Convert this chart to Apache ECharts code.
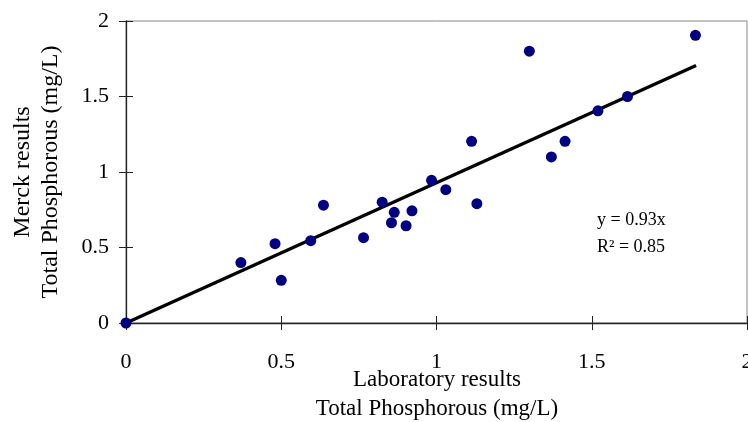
<!DOCTYPE html>
<html>
<head>
<meta charset="utf-8">
<script src="https://cdn.jsdelivr.net/npm/echarts@6/dist/echarts.min.js"></script>
<style>
html,body{margin:0;padding:0;background:#fff;}
#chart{width:748px;height:422px;}
</style>
</head>
<body>
<div id="chart"></div>
<script>
// Data
const labX   = [0, 0.37, 0.48, 0.50, 0.595, 0.636, 0.765, 0.825, 0.855, 0.864, 0.902, 0.921, 0.984, 1.03, 1.113, 1.13, 1.299, 1.37, 1.414, 1.52, 1.615, 1.834];
const merckY = [0, 0.40, 0.525, 0.283, 0.545, 0.78, 0.565, 0.80, 0.664, 0.733, 0.644, 0.743, 0.945, 0.883, 1.203, 0.79, 1.80, 1.10, 1.203, 1.405, 1.50, 1.905];
const trendX = [0, 1.836];
const trendY = [0, 1.706];
const xTicks = [0, 0.5, 1, 1.5, 2];
const yTicks = [0, 0.5, 1, 1.5, 2];
const xTitle = 'Laboratory results\nTotal Phosphorous (mg/L)';
const yTitle = 'Merck results\nTotal Phosphorous (mg/L)';
const eqText = 'y = 0.93x';
const r2Text = 'R\u00B2 = 0.85';

const FONT = '"Liberation Serif", "Times New Roman", serif';
const chart = echarts.init(document.getElementById('chart'), null, {renderer: 'canvas'});

const scatterData = labX.map((x, i) => [x, merckY[i]]);
const trendData = trendX.map((x, i) => [x, trendY[i]]);

const axisBase = (ticks) => ({
  type: 'value',
  min: ticks[0],
  max: ticks[ticks.length - 1],
  interval: ticks[1] - ticks[0],
  splitLine: {show: false}
});

chart.setOption({
  animation: false,
  backgroundColor: '#fff',
  grid: {left: 126, right: 1, top: 21, bottom: 99, containLabel: false, outerBoundsMode: 'none',
    show: true, borderColor: '#888', borderWidth: 1, backgroundColor: 'transparent'},
  xAxis: [
    Object.assign(axisBase(xTicks), {
      position: 'bottom',
      axisLine: {show: true, lineStyle: {color: '#222', width: 1.3}},
      axisTick: {show: true, inside: false, length: 7, lineStyle: {color: '#222', width: 1}},
      axisLabel: {show: true, margin: 28, color: '#000', fontFamily: FONT, fontSize: 22,
        showMaxLabel: true, showMinLabel: true, formatter: v => String(v)}
    }),
    Object.assign(axisBase(xTicks), {
      position: 'bottom',
      axisLine: {show: false},
      axisTick: {show: true, inside: true, length: 7, lineStyle: {color: '#222', width: 1}},
      axisLabel: {show: false}
    })
  ],
  yAxis: [
    Object.assign(axisBase(yTicks), {
      position: 'left',
      axisLine: {show: true, lineStyle: {color: '#222', width: 1.3}},
      axisTick: {show: true, inside: false, length: 7, lineStyle: {color: '#222', width: 1}},
      axisLabel: {show: true, margin: 17, color: '#000', fontFamily: FONT, fontSize: 22,
        formatter: v => String(v)}
    }),
    Object.assign(axisBase(yTicks), {
      position: 'left',
      axisLine: {show: false},
      axisTick: {show: true, inside: true, length: 7, lineStyle: {color: '#222', width: 1}},
      axisLabel: {show: false}
    })
  ],
  series: [
    {
      type: 'line',
      xAxisIndex: 0, yAxisIndex: 0,
      data: trendData,
      showSymbol: false,
      symbol: 'none',
      lineStyle: {color: '#000', width: 3.3},
      z: 2,
      silent: true
    },
    {
      type: 'scatter',
      xAxisIndex: 0, yAxisIndex: 0,
      data: scatterData,
      symbol: 'circle',
      symbolSize: 11,
      itemStyle: {color: '#000080', opacity: 1},
      clip: false,
      z: 3
    }
  ],
  graphic: [
    {type: 'text', x: 437, y: 394, z: 10,
      style: {text: xTitle, fontFamily: FONT, fontSize: 23, fill: '#000', align: 'center', verticalAlign: 'middle', lineHeight: 29}},
    {type: 'text', x: 37, y: 172, rotation: Math.PI / 2, z: 10,
      style: {text: yTitle, fontFamily: FONT, fontSize: 24, fill: '#000', align: 'center', verticalAlign: 'middle', lineHeight: 28}},
    {type: 'text', x: 597, y: 220, z: 10,
      style: {text: eqText, fontFamily: FONT, fontSize: 18, fill: '#000', align: 'left', verticalAlign: 'middle'}},
    {type: 'text', x: 597, y: 247, z: 10,
      style: {text: r2Text, fontFamily: FONT, fontSize: 18, fill: '#000', align: 'left', verticalAlign: 'middle'}}
  ]
});
</script>
</body>
</html>
